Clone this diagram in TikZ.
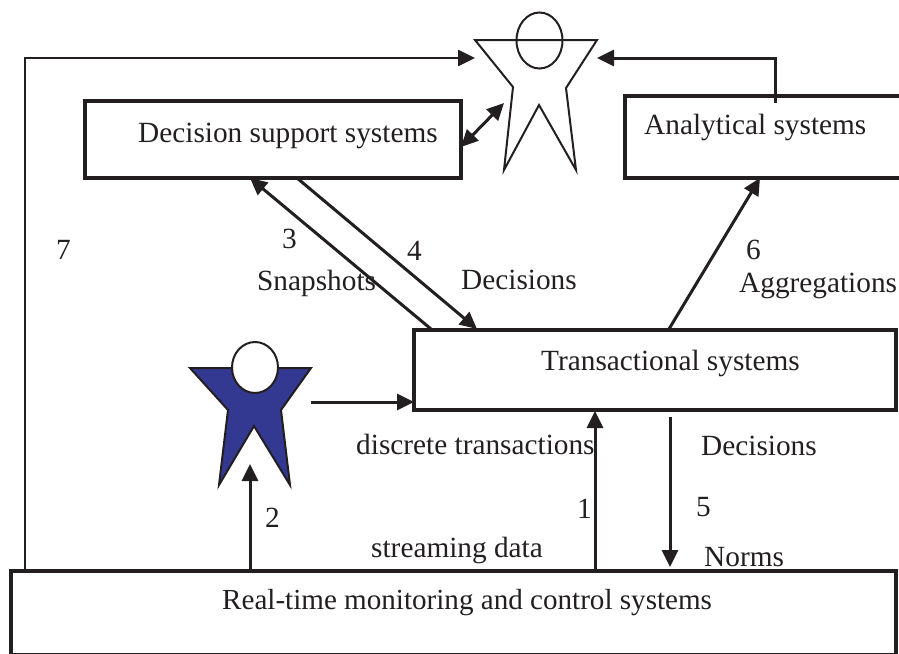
\documentclass[tikz,border=0pt]{standalone}
\usepackage{fontspec}
\setmainfont{Liberation Serif}
\usetikzlibrary{arrows.meta}
\definecolor{figblue}{RGB}{51,56,145}
\definecolor{ink}{RGB}{35,31,32}
\tikzset{
  box/.style={draw=ink,line width=3.6pt,fill=white},
  lbl/.style={inner sep=0pt,anchor=base west,text=ink,font=\fontsize{29.3}{30}\selectfont},
  conn/.style={draw=ink,line width=3pt,-{Triangle[length=17pt,width=16pt]}},
  bothconn/.style={draw=ink,line width=3pt,{Triangle[length=17pt,width=16pt]}-{Triangle[length=17pt,width=16pt]}},
  figline/.style={draw=ink,line width=2pt,line join=miter},
}
\begin{document}
\begin{tikzpicture}[x=1pt,y=-1pt]
\useasboundingbox (0,0) rectangle (899,653);
% boxes
\draw[box] (85,101) rectangle (461,178);
\draw[box] (901,96) -- (625,96) -- (625,178) -- (901,178);
\draw[box] (414,330) rectangle (896,410);
\clip (0,0) rectangle (899,653);
\draw[box] (11,571) rectangle (896,654.5);
% named points
\coordinate (dssR) at (461,147);
\coordinate (dssA) at (250,178);
\coordinate (dssB) at (297,178);
\coordinate (tsA) at (431,329);
\coordinate (tsB) at (477,329);
\coordinate (tsC) at (669,329);
\coordinate (tsL) at (414,402);
\coordinate (tsD) at (595,411);
\coordinate (tsE) at (670,417);
\coordinate (anaB) at (760,178);
\coordinate (anaT) at (775,103);
\coordinate (rtA) at (25,571);
\coordinate (rtB) at (250,571);
\coordinate (rtC) at (595,571);
\coordinate (rtD) at (670,567);
\coordinate (manL) at (475,58);
\coordinate (manR) at (597,58);
\coordinate (manS) at (504,103);
\coordinate (opR) at (311,402);
\coordinate (opB) at (250,464);
% figures
\draw[figline] (475,40) -- (597,40) -- (566,88) -- (576,170) -- (539,105) -- (504,170) -- (513,87) -- cycle;
\draw[figline] (539.5,40.5) ellipse [x radius=23,y radius=28];
\draw[figline,fill=figblue] (190,368) -- (311,368) -- (281,410) -- (290,485) -- (254,426) -- (219,485) -- (228,410) -- cycle;
\draw[figline,fill=white] (255,367.5) ellipse [x radius=23,y radius=25.5];
% connectors
\draw[conn,line width=2.6pt] (rtA) -- (25,58) -- (manL);
\draw[conn] (anaT) -- (775,58) -- (manR);
\draw[bothconn] (dssR) -- (manS);
\draw[conn] (tsA) -- (dssA);
\draw[conn] (dssB) -- (tsB);
\draw[conn] (tsC) -- (anaB);
\draw[conn] (opR) -- (tsL);
\draw[conn] (rtB) -- (opB);
\draw[conn] (rtC) -- (tsD);
\draw[conn] (tsE) -- (rtD);
% labels
\node[lbl] (t1) at (138,142) {Decision support systems};
\node[lbl] (t2) at (644,134) {Analytical systems};
\node[lbl] (t3) at (541,370) {Transactional systems};
\node[lbl,font=\fontsize{29.1}{30}\selectfont] (t4) at (222,609) {Real-time monitoring and control systems};
\node[lbl] (n7) at (56,259) {7};
\node[lbl] (n3) at (282,248) {3};
\node[lbl] (n4) at (407,260) {4};
\node[lbl] (n6) at (746,259) {6};
\node[lbl] (n2) at (265,527) {2};
\node[lbl] (n1) at (577,518) {1};
\node[lbl] (n5) at (696,516) {5};
\node[lbl] (s) at (257,290) {Snapshots};
\node[lbl] (d1) at (461,289) {Decisions};
\node[lbl] (a) at (739,292) {Aggregations};
\node[lbl] (dt) at (356,454) {discrete transactions};
\node[lbl] (d2) at (701,455) {Decisions};
\node[lbl] (sd) at (371,557) {streaming data};
\node[lbl] (no) at (704,566) {Norms};
\end{tikzpicture}
\end{document}
